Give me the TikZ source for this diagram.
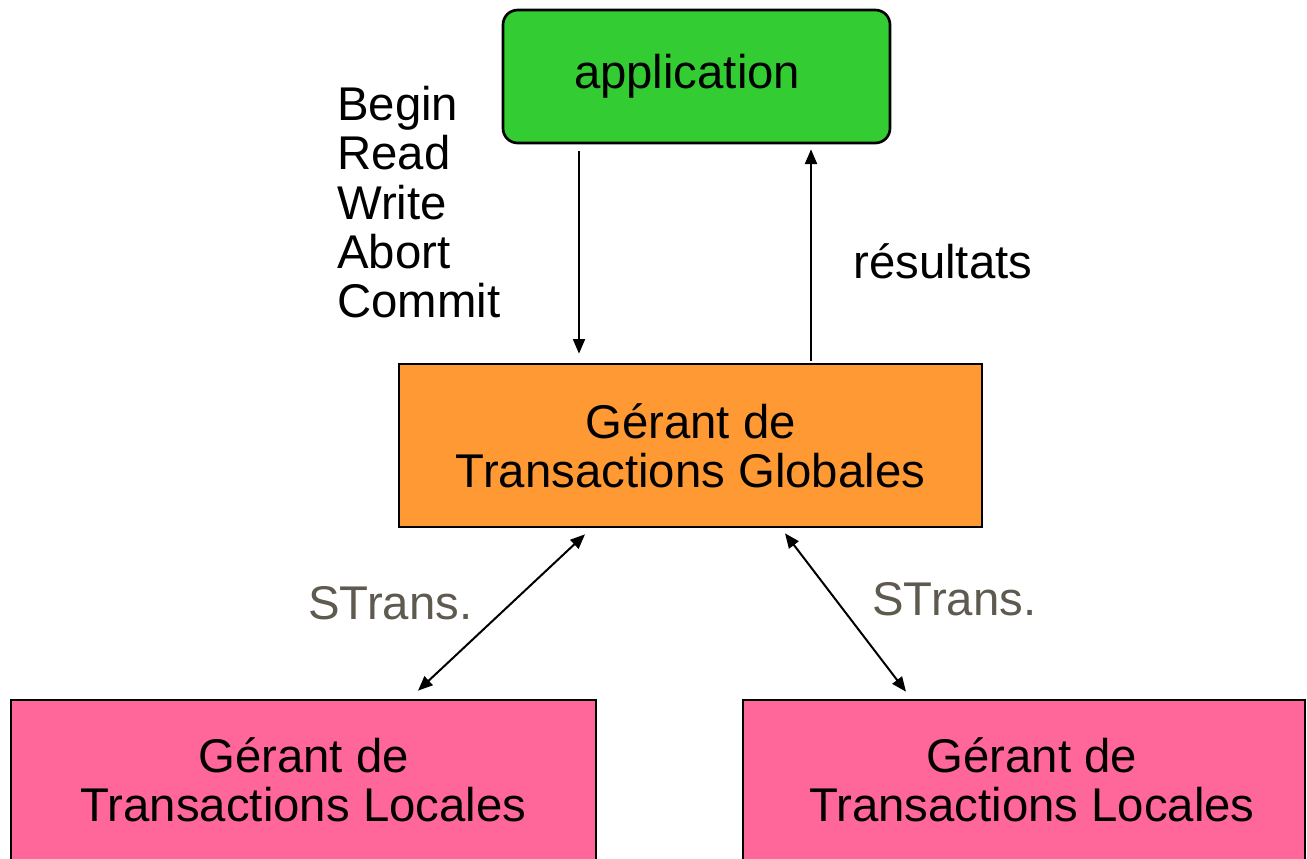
\documentclass[tikz,border=0pt]{standalone}
\usepackage{fontspec}
\setmainfont{Liberation Sans}
\usetikzlibrary{arrows.meta,calc}
\definecolor{appgreen}{HTML}{33CC33}
\definecolor{globorange}{HTML}{FF9933}
\definecolor{locpink}{HTML}{FF6699}
\definecolor{stransgray}{HTML}{5E5A50}
\tikzset{
  box/.style={draw=black, line width=2pt, align=center, inner sep=0pt,
    font=\fontsize{35.5}{37}\selectfont},
  lbl/.style={inner sep=0pt, font=\fontsize{35.5}{37}\selectfont},
  arr/.style={line width=1.5pt, -{Triangle[length=11pt,width=9pt]}},
  darr/.style={line width=1.5pt, {Triangle[length=11pt,width=9pt]}-{Triangle[length=11pt,width=9pt]}}
}
\begin{document}
\begin{tikzpicture}[x=0.75pt,y=-0.75pt]
\useasboundingbox (0,0) rectangle (1307,858);
\clip (0,0) rectangle (1307,858);
\node[box, fill=appgreen, rounded corners=11pt, minimum width=387*0.75pt, minimum height=133*0.75pt] (app) at (696.5,76.5) {application\hspace*{14pt}};
\node[box, fill=globorange, minimum width=583*0.75pt, minimum height=163*0.75pt] (glob) at (690.5,445.5) {G\'erant de\\Transactions Globales};
\node[box, fill=locpink, minimum width=585*0.75pt, minimum height=160*0.75pt] (locL) at (303.5,780) {G\'erant de\\Transactions Locales};
\node[box, fill=locpink, minimum width=562*0.75pt, minimum height=160*0.75pt] (locR) at (1024,780) {\hspace*{12pt}G\'erant de\\\hspace*{12pt}Transactions Locales};

\node[lbl, align=left, anchor=north west] (ops) at (337,86) {Begin\\Read\\Write\\Abort\\Commit};
\node[lbl, anchor=base west] (res) at (853,278) {r\'esultats};
\node[lbl, anchor=base west, text=stransgray] (stl) at (308,619) {STrans.};
\node[lbl, anchor=base west, text=stransgray] (str) at (872,615) {STrans.};

\draw[arr] ($(app.south)+(-117.5,7)$) -- ($(glob.north)+(-111.5,-9)$);
\draw[arr] ($(glob.north)+(120.5,-2)$) -- ($(app.south)+(114.5,5)$);
\draw[darr] ($(glob.south)+(-105.5,6)$) -- ($(locL.north)+(114.5,-8)$);
\draw[darr] ($(glob.south)+(94.5,5)$) -- ($(locR.north)+(-118,-7)$);
\end{tikzpicture}
\end{document}
